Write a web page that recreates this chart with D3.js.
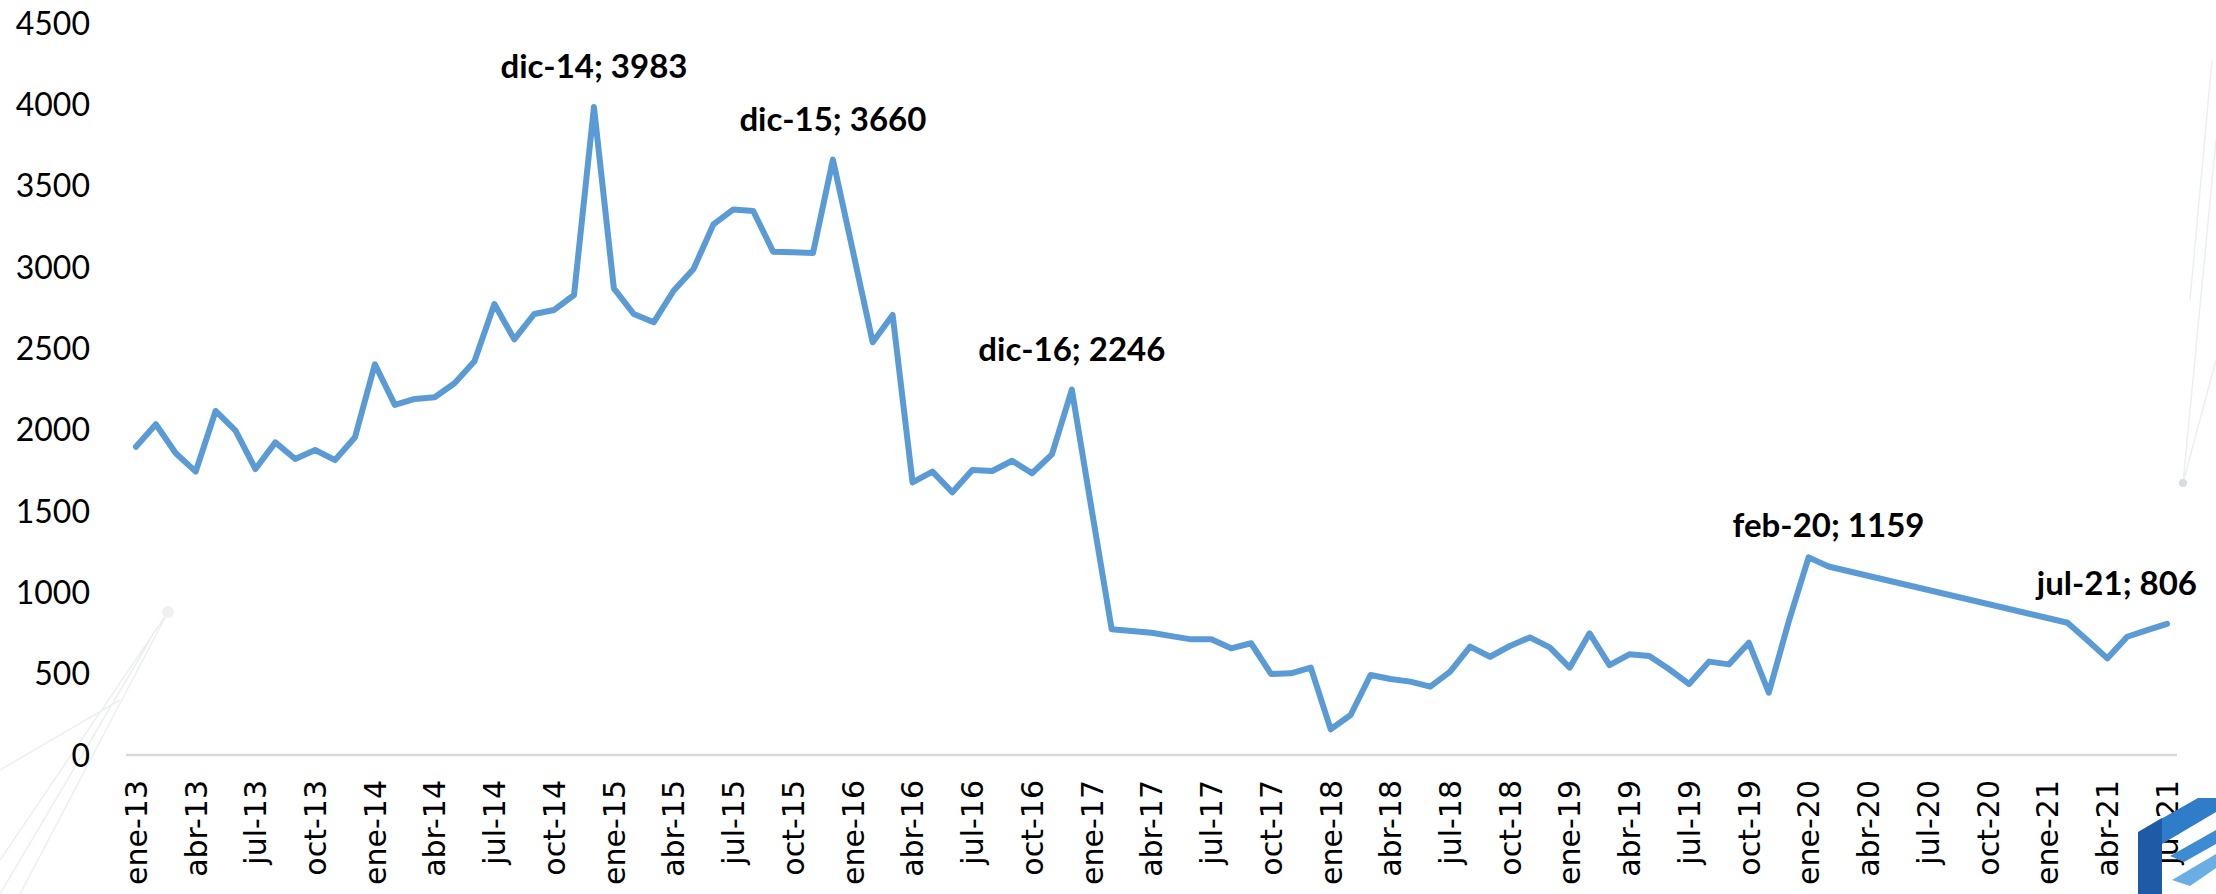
<!DOCTYPE html>
<html>
<head>
<meta charset="utf-8">
<script src="https://cdn.jsdelivr.net/npm/d3@7"></script>
<style>
  body { margin: 0; background: #fff; }
  svg { display: block; }
</style>
</head>
<body>
<div id="chart-container"></div>
<script>
// month names (es) and years on the axis
const monthNames = ['ene', 'feb', 'mar', 'abr', 'may', 'jun', 'jul', 'ago', 'sep', 'oct', 'nov', 'dic'];
const years = ['13', '14', '15', '16', '17', '18', '19', '20', '21'];
const lastMonth = 'jul-21';

// monthly values from ene-13 to jul-21, null = no data (line joins across the gap)
const values = [
  1895, 2033, 1855, 1742, 2115, 1994, 1758, 1922, 1820, 1875, 1813, 1953,
  2402, 2152, 2189, 2199, 2285, 2420, 2772, 2555, 2711, 2736, 2828, 3983,
  2869, 2711, 2660, 2854, 2988, 3262, 3354, 3344, 3094, 3090, 3086, 3660,
  3100, 2537, 2705, 1676, 1742, 1615, 1752, 1746, 1809, 1732, 1848, 2246,
  1504, 773, 762, 752, 731, 711, 711, 656, 687, 498, 502, 537,
  158, 246, 492, 467, 451, 420, 512, 666, 604, 670, 723, 662,
  537, 748, 553, 619, 609, 527, 436, 574, 557, 690, 383, 820,
  1215, 1159, null, null, null, null, null, null, null, null, null, null,
  null, 813, 705, 594, 727, 768, 806
];

const yTicks = [0, 500, 1000, 1500, 2000, 2500, 3000, 3500, 4000, 4500];

// highlighted points
const labelMonths = ['dic-14', 'dic-15', 'dic-16', 'feb-20', 'jul-21'];

const months = [];
for (const yy of years) {
  for (const m of monthNames) {
    if (months.length && months[months.length - 1] === lastMonth) break;
    months.push(`${m}-${yy}`);
  }
}
const data = months.map((m, i) => ({ month: m, value: values[i] }));
const tickLabels = months.filter((m, i) => i % 3 === 0);

const width = 2216;
const height = 894;
const plot = { left: 126, right: 2177, top: 23, bottom: 755 };

const svg = d3.select('#chart-container')
  .append('svg')
  .attr('width', width)
  .attr('height', height);

// faint background decoration
const deco = svg.append('g').attr('fill', 'none').attr('stroke', '#eceff1').attr('stroke-width', 1.5);
deco.append('path').attr('d', 'M0,860 L168,612 M0,894 L150,640 M20,894 L168,612 M0,770 L120,700');
deco.append('path').attr('d', 'M2216,140 L2183,483 M2212,60 L2190,300 M2216,360 L2183,483');
svg.append('circle').attr('cx', 168).attr('cy', 612).attr('r', 6).attr('fill', '#eef0f2');
svg.append('circle').attr('cx', 2183).attr('cy', 483).attr('r', 4).attr('fill', '#d7dde0');

const x = d3.scalePoint()
  .domain(months)
  .range([plot.left, plot.right])
  .padding(0.5);

const y = d3.scaleLinear()
  .domain([0, 4500])
  .range([plot.bottom, plot.top]);

// y axis labels only (no gridlines)
svg.append('g')
  .selectAll('text')
  .data(yTicks)
  .enter()
  .append('text')
  .attr('x', 90)
  .attr('y', d => y(d))
  .attr('dy', '0.36em')
  .attr('text-anchor', 'end')
  .style('font-family', 'Lato, sans-serif')
  .style('font-size', '32px')
  .style('fill', '#000')
  .text(d => d);

// baseline
svg.append('line')
  .attr('x1', plot.left)
  .attr('x2', plot.right)
  .attr('y1', y(0))
  .attr('y2', y(0))
  .attr('stroke', '#d9d9d9')
  .attr('stroke-width', 2.5);

// x labels, rotated
svg.append('g')
  .selectAll('text')
  .data(tickLabels)
  .enter()
  .append('text')
  .attr('transform', d => `translate(${x(d)},780) rotate(-90)`)
  .attr('dy', '0.36em')
  .attr('text-anchor', 'end')
  .style('font-family', '"DejaVu Sans", sans-serif')
  .style('font-size', '30px')
  .style('fill', '#000')
  .text(d => d);

const line = d3.line()
  .x(d => x(d.month))
  .y(d => y(d.value));

svg.append('path')
  .datum(data.filter(d => d.value !== null))
  .attr('d', line)
  .attr('fill', 'none')
  .attr('stroke', '#5b9bd5')
  .attr('stroke-width', 6)
  .attr('stroke-linejoin', 'round')
  .attr('stroke-linecap', 'round');

// data labels
const labels = svg.append('g')
  .selectAll('text')
  .data(data.filter(d => labelMonths.includes(d.month)))
  .enter()
  .append('text')
  .attr('x', d => x(d.month))
  .attr('y', d => y(d.value) - 29)
  .attr('text-anchor', 'middle')
  .style('font-family', 'Lato, sans-serif')
  .style('font-weight', 'bold')
  .style('font-size', '33px')
  .style('fill', '#000')
  .text(d => `${d.month}; ${d.value}`);

// keep labels inside the chart area
labels.each(function (d) {
  const w = this.getComputedTextLength();
  const cx = Math.min(x(d.month), 2197 - w / 2);
  d3.select(this).attr('x', cx);
});

// corner logo
const logo = svg.append('g');
logo.append('polygon').attr('points', '2138,832 2162,818 2162,894 2138,894').attr('fill', '#1f5aa6');
logo.append('polygon').attr('points', '2138,832 2198,798 2216,798 2216,812 2162,844 2162,818').attr('fill', '#2f7cc8');
logo.append('polygon').attr('points', '2170,856 2216,830 2216,844 2184,862').attr('fill', '#3d8bd2');
logo.append('polygon').attr('points', '2172,880 2216,854 2216,868 2190,886').attr('fill', '#6aaee3');
</script>
</body>
</html>
